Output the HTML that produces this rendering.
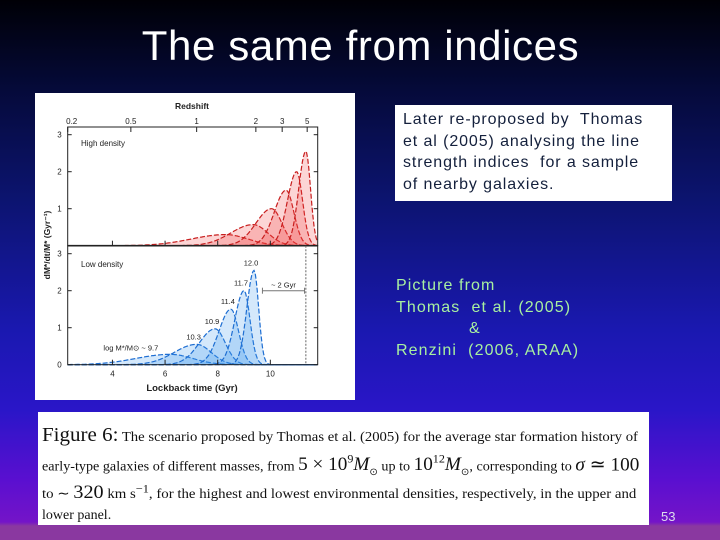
<!DOCTYPE html>
<html><head><meta charset="utf-8"><style>
html,body{margin:0;padding:0}
body{width:720px;height:540px;overflow:hidden;position:relative;font-family:"Liberation Sans",sans-serif;
background:linear-gradient(180deg,#000006 0px,#050a3a 90px,#0c1470 200px,#1a18b0 330px,#2a16c8 410px,#5a0fd0 480px,#7414c8 522px,#8a38a0 526px,#8a38a0 540px);}
.title{position:absolute;left:0;width:725px;top:20px;text-align:center;color:#fff;font-size:41px;}
.box{position:absolute;background:#fff}
.cl{position:absolute;left:4px;white-space:nowrap;transform-origin:0 0}
</style></head><body>
<div class="title" style="left:-2px;top:22px;font-size:42px;letter-spacing:0.6px">The same from indices</div>

<div class="box" style="left:35px;top:93px;width:320px;height:307px">
<svg id="chart" width="320" height="307" viewBox="35 93 320 307" style="display:block"></svg>
</div>

<div class="box" style="left:395px;top:105px;width:277px;height:96px;">
<div style="position:absolute;left:8px;top:4px;font-size:16px;line-height:21.5px;color:#14203c;letter-spacing:0.9px;white-space:nowrap">Later re-proposed by&nbsp; Thomas<br>et al (2005) analysing the line<br>strength indices&nbsp; for a sample<br>of nearby galaxies.</div>
</div>

<div style="position:absolute;left:396px;top:275px;font-size:16px;line-height:21.5px;color:#a8f0a0;letter-spacing:1.1px;white-space:nowrap">Picture from<br>Thomas&nbsp; et al. (2005)<br><span style="padding-left:73px">&amp;</span><br>Renzini&nbsp; (2006, ARAA)</div>

<div class="box" style="left:38px;top:412px;width:611px;height:113px;font-family:'Liberation Serif',serif;color:#111;font-size:14px;overflow:hidden">
<div class="cl" style="top:12px;transform:scaleX(1.05)"><span style="font-size:20px">Figure 6:</span> The scenario proposed by Thomas et al. (2005) for the average star formation history of</div>
<div class="cl" style="top:40px;transform:scaleX(1.01)">early-type galaxies of different masses, from <span style="font-size:19px">5 × 10<sup style="font-size:12px">9</sup><i>M</i><sub style="font-size:10px">⊙</sub></span> up to <span style="font-size:19px">10<sup style="font-size:12px">12</sup><i>M</i><sub style="font-size:10px">⊙</sub></span>, corresponding to <span style="font-size:19px"><i>σ</i> ≃ 100</span></div>
<div class="cl" style="top:70px;transform:scaleX(1.06)">to ∼ <span style="font-size:19px">320</span> km s<sup>−1</sup>, for the highest and lowest environmental densities, respectively, in the upper and</div>
<div class="cl" style="top:96px">lower panel.</div>
</div>

<div style="position:absolute;left:661px;top:509px;color:#dde;font-size:13px">53</div>

<script>
const massLabels=["9.7","10.3","10.9","11.4","11.7","12.0"];
const lowPeaks=[6.2,7.2,7.9,8.5,9.0,9.38];
const lowHeights=[0.28,0.55,0.97,1.5,2.0,2.55];
const lowWidths=[1.3,0.85,0.6,0.45,0.35,0.27];
const highPeaks=[8.3,9.35,10.05,10.6,11.0,11.35];
const highHeights=[0.3,0.57,1.0,1.5,2.0,2.55];
const highWidths=[1.3,0.85,0.6,0.45,0.35,0.27];
const xTicks=[4,6,8,10];
const yTicks=[0,1,2,3];
const zTicks=[0.2,0.5,1,2,3,5];
const zPos=[2.3,4.7,7.2,9.45,10.45,11.4];

const X0=67.7,X1=317.7,T0=2.3,T1=11.8;
function xs(t){return X0+(t-T0)*(X1-X0)/(T1-T0);}
const topBase=245.7, lowBase=364.7, unit=37;
function yTop(v){return topBase-v*unit;}
function yLow(v){return lowBase-v*unit;}
const svg=document.getElementById('chart');
const NS='http://www.w3.org/2000/svg';
function el(tag,attrs,parent){const e=document.createElementNS(NS,tag);for(const k in attrs)e.setAttribute(k,attrs[k]);(parent||svg).appendChild(e);return e;}
function txt(x,y,s,size,anchor,parent){const e=el('text',{x:x,y:y,'font-size':size,'text-anchor':anchor||'middle','font-family':'Liberation Sans, sans-serif',fill:'#222'},parent);e.textContent=s;return e;}

function curve(peak,h,w,ys,color,fill,name){
  let pts=[];
  for(let t=T0;t<=T1+0.001;t+=0.04){
    const s=t<peak?w:w*0.65;
    const v=h*Math.exp(-0.5*((t-peak)/s)**2);
    pts.push([xs(t),ys(v)]);
  }
  const d='M'+pts.map(p=>p[0].toFixed(1)+','+p[1].toFixed(1)).join('L');
  const a=el('path',{d:d+'L'+xs(T1)+','+ys(0)+'L'+xs(T0)+','+ys(0)+'Z',fill:fill,'fill-opacity':0.22,stroke:'none'});
  
  
  const l=el('path',{d:d,fill:'none',stroke:color,'stroke-width':1.2,'stroke-dasharray':'5,2'});
  
  
}
for(let i=0;i<highPeaks.length;i++) curve(highPeaks[i],highHeights[i],highWidths[i],yTop,'#c81e1e','#f04040','high-density-curve-'+massLabels[i]);
for(let i=0;i<lowPeaks.length;i++) curve(lowPeaks[i],lowHeights[i],lowWidths[i],yLow,'#1e6ed2','#3c96ec','low-density-curve-'+massLabels[i]);

const f1=el('rect',{x:X0,y:127,width:X1-X0,height:topBase-127,fill:'none',stroke:'#222','stroke-width':1});

const f2=el('rect',{x:X0,y:topBase,width:X1-X0,height:lowBase-topBase,fill:'none',stroke:'#222','stroke-width':1});

el('line',{x1:X0,x2:X1,y1:topBase,y2:topBase,stroke:'#222','stroke-width':1.6});

yTicks.forEach(v=>{
  [yTop,yLow].forEach(f=>{
    if(f===yTop&&v===0)return;
    el('line',{x1:X0,x2:X0+4,y1:f(v),y2:f(v),stroke:'#222'});
    el('line',{x1:X1,x2:X1-4,y1:f(v),y2:f(v),stroke:'#222'});
    const t=txt(X0-6,f(v)+3,String(v),8,'end');
    
  });
});
xTicks.forEach(v=>{
  [lowBase,topBase].forEach(b=>{el('line',{x1:xs(v),x2:xs(v),y1:b,y2:b-5,stroke:'#222'});});
  const t=txt(xs(v),lowBase+12,String(v),8);
  
});
zTicks.forEach((z,i)=>{
  el('line',{x1:xs(zPos[i]),x2:xs(zPos[i]),y1:127,y2:132,stroke:'#222'});
  const t=txt(xs(zPos[i])+(i===0?4:0),124,String(z),8);
  
});
let t;
t=txt(192,109,'Redshift',8.5);t.setAttribute('font-weight','bold');
t=txt(192,391,'Lockback time (Gyr)',9.5);t.setAttribute('font-weight','bold');
t=txt(0,0,'dM*/dt/M* (Gyr⁻¹)',8.5);t.setAttribute('font-weight','bold');t.setAttribute('transform','translate(50,245) rotate(-90)');
t=txt(81,146,'High density',8,'start');
t=txt(81,267,'Low density',8,'start');
massLabels.forEach((m,i)=>{
  const s=i===0?'log M*/M⊙ ~ '+m:m;
  const x=i===0?xs(4.7):xs(lowPeaks[i])-3;
  const y=i===0?yLow(lowHeights[i])-4:yLow(lowHeights[i])-5;
  const e=txt(x,y,s,7.5,'middle');
  
});
const vl=el('line',{x1:xs(11.35),x2:xs(11.35),y1:topBase,y2:lowBase,stroke:'#666','stroke-dasharray':'2,1.5'});

const ar=el('line',{x1:xs(9.7),x2:xs(11.3),y1:yLow(2),y2:yLow(2),stroke:'#777','stroke-width':1});

el('line',{x1:xs(9.7),x2:xs(9.7),y1:yLow(2)-3,y2:yLow(2)+3,stroke:'#777'});
el('line',{x1:xs(11.3),x2:xs(11.3),y1:yLow(2)-3,y2:yLow(2)+3,stroke:'#777'});
t=txt(xs(10.5),yLow(2)-3,'~ 2 Gyr',7.5);
</script>
</body></html>
